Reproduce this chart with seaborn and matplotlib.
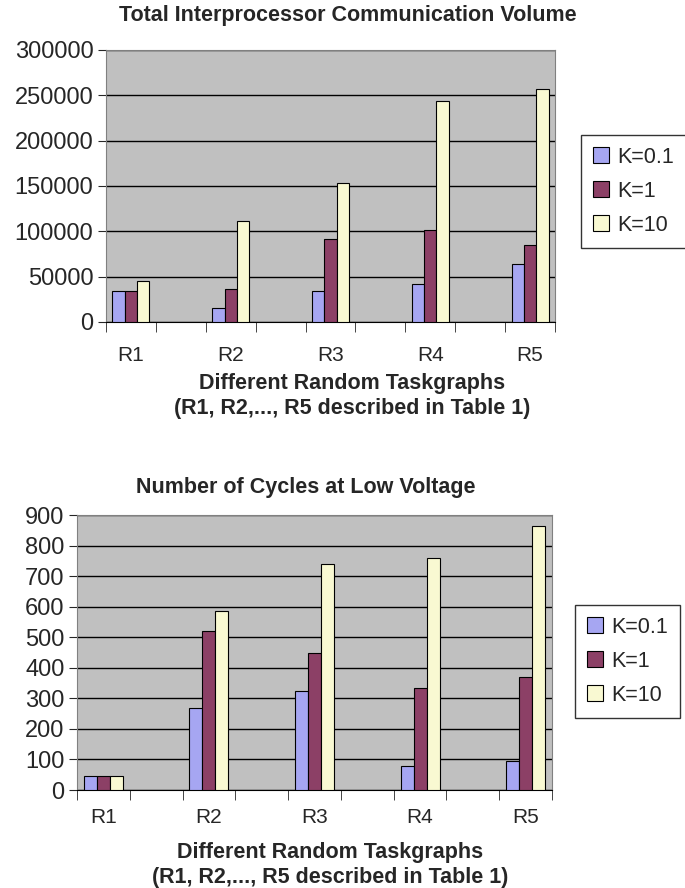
import numpy as np
import pandas as pd
import matplotlib
matplotlib.use("Agg")
import matplotlib.pyplot as plt
import seaborn as sns

groups = ["R1", "R2", "R3", "R4", "R5"]
k_labels = ["K=0.1", "K=1", "K=10"]
comm_k01 = [34000, 15000, 34000, 42000, 64000]
comm_k1 = [34000, 36000, 92000, 101000, 85000]
comm_k10 = [45000, 111000, 153000, 244000, 257000]
cyc_k01 = [45, 270, 325, 80, 95]
cyc_k1 = [45, 520, 450, 335, 370]
cyc_k10 = [45, 585, 740, 760, 865]
colors = ["#9999FF", "#993366", "#FFFFCC"]

sns.set_style("white")
plt.rcParams["font.family"] = ["Liberation Sans", "DejaVu Sans"]


def long_df(a, b, c):
    rows = []
    for vals, k in zip([a, b, c], k_labels):
        for g, v in zip(groups, vals):
            rows.append({"Graph": g, "K": k, "Value": v})
    return pd.DataFrame(rows)


def draw(ax, df, ymax, step, leg_box, xpad):
    ax.set_facecolor("#C0C0C0")
    sns.barplot(data=df, x="Graph", y="Value", hue="K", palette=colors,
                hue_order=k_labels, order=groups, width=0.37, gap=0,
                edgecolor="black", linewidth=0.8, ax=ax, zorder=3)
    ax.set_ylim(0, ymax)
    ax.set_xlim(-0.25, 4.25)
    ax.set_yticks(np.arange(0, ymax + 1, step))
    ax.yaxis.grid(True, color="black", linewidth=1, zorder=0)
    ax.set_axisbelow(True)
    ax.tick_params(axis="y", labelsize=17, length=6, direction="out", left=True, pad=3)
    ax.tick_params(axis="x", labelsize=15, length=0, pad=xpad)
    ax.set_xticks(np.arange(-0.25, 4.3, 0.5), minor=True)
    ax.tick_params(axis="x", which="minor", length=7, direction="out", bottom=True)
    for s in ["top", "right", "left"]:
        ax.spines[s].set_color("#808080")
    ax.spines["bottom"].set_color("black")
    ax.set_ylabel("")
    ax.set_xlabel("")
    h, l = ax.get_legend_handles_labels()
    ax.legend(h, l, loc="upper left", bbox_to_anchor=leg_box,
              bbox_transform=ax.figure.transFigure, fontsize=15.5,
              frameon=True, fancybox=False, edgecolor="black",
              handlelength=0.75, handleheight=0.75, labelspacing=0.6,
              borderpad=0.55, handletextpad=0.4, borderaxespad=0)


W, H = 685, 888
fig = plt.figure(figsize=(W / 100, H / 100), dpi=100)
ax1 = fig.add_axes([106 / W, 1 - 322 / H, 449 / W, 272 / H])
ax2 = fig.add_axes([77 / W, 1 - 790 / H, 475 / W, 275 / H])

draw(ax1, long_df(comm_k01, comm_k1, comm_k10), 300000, 50000,
     (581 / W, 1 - 135 / H), 17)
draw(ax2, long_df(cyc_k01, cyc_k1, cyc_k10), 900, 100,
     (575 / W, 1 - 605 / H), 13)

xlab = "Different Random Taskgraphs\n(R1, R2,..., R5 described in Table 1)"
fig.text(348 / W, 1 - 15 / H, "Total Interprocessor Communication Volume",
         ha="center", va="center", fontsize=15.5, fontweight="bold")
fig.text(352 / W, 1 - 396 / H, xlab, ha="center", va="center",
         fontsize=15.5, fontweight="bold", linespacing=1.2)
fig.text(306 / W, 1 - 487 / H, "Number of Cycles at Low Voltage",
         ha="center", va="center", fontsize=15.5, fontweight="bold")
fig.text(330 / W, 1 - 865 / H, xlab, ha="center", va="center",
         fontsize=15.5, fontweight="bold", linespacing=1.2)

fig.savefig("out.png", dpi=100)
